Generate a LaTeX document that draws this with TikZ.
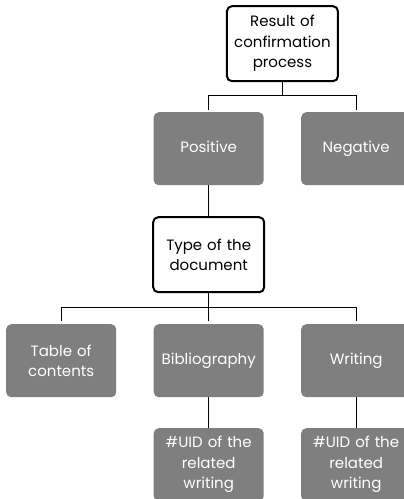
\documentclass[tikz,border=0pt]{standalone}
\usepackage{fontspec}
\setmainfont{Poppins}
\usepackage{tikz}
\usetikzlibrary{matrix,positioning}
\definecolor{leafgray}{RGB}{127,127,127}
\newcommand{\textres}{Result of\\confirmation\\process}
\newcommand{\textpos}{\strut Positive}
\newcommand{\textneg}{\strut Negative}
\newcommand{\texttype}{Type of the\\document}
\newcommand{\texttoc}{Table of\\contents}
\newcommand{\textbib}{\strut Bibliography}
\newcommand{\textwri}{\strut Writing}
\newcommand{\textuid}{\#UID of the\\related\\writing}

\begin{document}
\begin{tikzpicture}[x=1pt,y=1pt,
	any/.style={minimum width=110pt,minimum height=73pt,%
		text width=106pt,align=center,outer sep=0pt,inner sep=0pt,%
		rounded corners=5pt,font=\fontsize{15}{20.5}\selectfont},
	leaf/.style={any,fill=leafgray,text=white},
	question/.style={any,draw,line width=2pt,fill=white,text=black,%
		minimum width=111pt,minimum height=75pt},
	link/.style={line width=1.2pt}
	]
	\useasboundingbox (0,0) rectangle (404,-499);

	\matrix (tree) [matrix of nodes,nodes={leaf,anchor=center},%
	column sep=36pt,%
	row sep=31pt,%
	inner sep=0pt,anchor=north west] at (6,-112)%
	{
		& {\textpos} & {\textneg} \\
		& |[question]| {\texttype} & \\
		{\texttoc} & {\textbib} & {\textwri} \\
		& {\textuid} & {\textuid} \\
	};

	\path (tree-1-2.north) -- (tree-1-3.north) coordinate[midway] (mid);
	\node[question, above=31pt of mid] (result) {\textres};

	\draw[link, shorten >=2pt] (result.south) -- ++(0,-14) -| (tree-1-2.north);
	\draw[link, shorten >=2pt] (result.south) -- ++(0,-14) -| (tree-1-3.north);
	\draw[link] (tree-1-2) -- (tree-2-2);
	\foreach \c in {1,2,3}
		\draw[link, shorten >=3pt] (tree-2-2.south) -- ++(0,-15) -| (tree-3-\c.north);
	\draw[link] (tree-3-2) -- (tree-4-2);
	\draw[link] (tree-3-3) -- (tree-4-3);
\end{tikzpicture}
\end{document}
